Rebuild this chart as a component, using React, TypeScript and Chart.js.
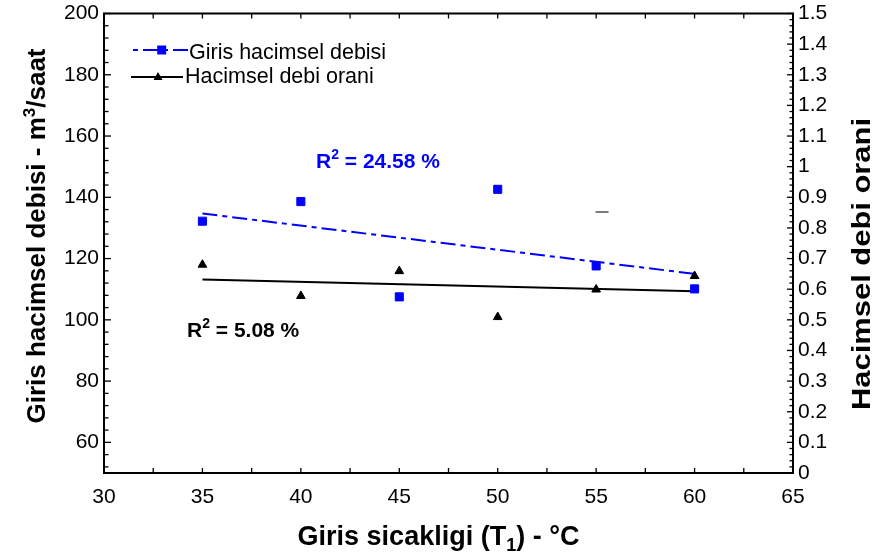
import React, { useEffect, useRef } from 'react';
import { Chart, registerables } from 'chart.js';

Chart.register(...registerables);

// ---------------- data ----------------
const temperatures = [35, 40, 45, 50, 55, 60];
const inletFlow = [132.2, 138.6, 107.5, 142.6, 117.6, 110.1];
const flowRatio = [0.68, 0.578, 0.659, 0.509, 0.599, 0.643];
const flowFitX = [35, 60];
const flowFitY = [134.7, 115.0];
const ratioFitX = [35, 60];
const ratioFitY = [0.632, 0.593];
const strayMarkX = [55.3];
const strayMarkY = [135.2];

const xTickValues = [30, 35, 40, 45, 50, 55, 60, 65];
const leftTickValues = [60, 80, 100, 120, 140, 160, 180, 200];
const rightTickValues = [0, 0.1, 0.2, 0.3, 0.4, 0.5, 0.6, 0.7, 0.8, 0.9, 1, 1.1, 1.2, 1.3, 1.4, 1.5];
const rightTickLabels = ['0', '0.1', '0.2', '0.3', '0.4', '0.5', '0.6', '0.7', '0.8', '0.9', '1', '1.1', '1.2', '1.3', '1.4', '1.5'];

const seriesLabels = ['Giris hacimsel debisi', 'Hacimsel debi orani'];
const r2Flow = ['R', '2', ' = 24.58 %'];
const r2Ratio = ['R', '2', ' = 5.08 %'];
const xTitle = ['Giris sicakligi (T', '1', ') - °C'];
const leftTitle = ['Giris hacimsel debisi - m', '3', '/saat'];
const rightTitle = 'Hacimsel debi orani';

const FONT = '"Liberation Sans", Arial, Helvetica, sans-serif';
const BLUE = '#0000ff';

type Part = { t: string; size: number; dy?: number; bold?: boolean };

function drawParts(ctx: CanvasRenderingContext2D, parts: Part[], x: number, y: number, align: 'left' | 'center') {
  let total = 0;
  const widths: number[] = [];
  for (const p of parts) {
    ctx.font = `${p.bold === false ? '' : 'bold '}${p.size}px ${FONT}`;
    const w = ctx.measureText(p.t).width;
    widths.push(w);
    total += w;
  }
  let cx = align === 'center' ? x - total / 2 : x;
  ctx.textAlign = 'left';
  ctx.textBaseline = 'alphabetic';
  parts.forEach((p, i) => {
    ctx.font = `${p.bold === false ? '' : 'bold '}${p.size}px ${FONT}`;
    ctx.fillText(p.t, cx, y + (p.dy || 0));
    cx += widths[i];
  });
  return total;
}

function line(ctx: CanvasRenderingContext2D, x1: number, y1: number, x2: number, y2: number) {
  ctx.beginPath();
  ctx.moveTo(x1, y1);
  ctx.lineTo(x2, y2);
  ctx.stroke();
}

const overlayPlugin = {
  id: 'overlay',
  afterDraw(chart: any) {
    const ctx: CanvasRenderingContext2D = chart.ctx;
    const { left, right, top, bottom } = chart.chartArea;
    const xs = chart.scales.x;
    const yl = chart.scales.y;
    const yr = chart.scales.y1;
    ctx.save();

    // frame
    ctx.strokeStyle = '#000';
    ctx.lineWidth = 2;
    ctx.strokeRect(left, top, right - left, bottom - top);

    // x ticks (bottom and top, inward)
    ctx.lineWidth = 1.3;
    for (let i = 0; i <= 14; i++) {
      const px = xs.getPixelForValue(30 + i * 2.5);
      line(ctx, px, bottom, px, bottom - 5);
      line(ctx, px, top, px, top + 5);
    }
    // left axis ticks
    for (let i = 0; i <= 37; i++) {
      const v = 52 + i * 4;
      const py = yl.getPixelForValue(v);
      const len = v % 20 === 0 ? 7 : 4.5;
      line(ctx, left, py, left + len, py);
    }
    // right axis ticks
    for (let i = 0; i <= 75; i++) {
      const py = yr.getPixelForValue(i * 0.02);
      const len = i % 5 === 0 ? 6 : 3.5;
      line(ctx, right, py, right - len, py);
    }

    // legend
    ctx.lineWidth = 2;
    ctx.strokeStyle = BLUE;
    ctx.setLineDash([5, 5, 15, 5]);
    line(ctx, 133, 50, 188, 50);
    ctx.setLineDash([]);
    ctx.fillStyle = BLUE;
    ctx.fillRect(161.7 - 4.5, 50 - 4.5, 9, 9);
    ctx.strokeStyle = '#000';
    line(ctx, 131, 77, 183, 77);
    ctx.fillStyle = '#000';
    ctx.beginPath();
    ctx.moveTo(158, 72);
    ctx.lineTo(162.5, 80);
    ctx.lineTo(153.5, 80);
    ctx.closePath();
    ctx.fill();
    ctx.fillStyle = '#000';
    ctx.font = `21.5px ${FONT}`;
    ctx.textAlign = 'left';
    ctx.textBaseline = 'alphabetic';
    ctx.fillText(seriesLabels[0], 189, 59);
    ctx.fillText(seriesLabels[1], 185, 83);

    // R² annotations
    ctx.fillStyle = BLUE;
    drawParts(ctx, [
      { t: r2Flow[0], size: 21 },
      { t: r2Flow[1], size: 14, dy: -9 },
      { t: r2Flow[2], size: 21 },
    ], 316, 168, 'left');
    ctx.fillStyle = '#000';
    drawParts(ctx, [
      { t: r2Ratio[0], size: 21 },
      { t: r2Ratio[1], size: 14, dy: -9 },
      { t: r2Ratio[2], size: 21 },
    ], 187, 337, 'left');

    // axis titles
    ctx.fillStyle = '#000';
    drawParts(ctx, [
      { t: xTitle[0], size: 27 },
      { t: xTitle[1], size: 18, dy: 6 },
      { t: xTitle[2], size: 27 },
    ], 438.5, 545, 'center');

    ctx.save();
    ctx.translate(45, 236);
    ctx.rotate(-Math.PI / 2);
    drawParts(ctx, [
      { t: leftTitle[0], size: 26 },
      { t: leftTitle[1], size: 17, dy: -10 },
      { t: leftTitle[2], size: 26 },
    ], 0, 0, 'center');
    ctx.restore();

    ctx.save();
    ctx.translate(870, 264);
    ctx.rotate(-Math.PI / 2);
    ctx.font = `bold 25px ${FONT}`;
    const rw = ctx.measureText(rightTitle).width;
    ctx.scale(292 / rw, 1);
    drawParts(ctx, [{ t: rightTitle, size: 25 }], 0, 0, 'center');
    ctx.restore();

    ctx.restore();
  },
};

const noPad = (w: number | null, h: number | null) => (s: any) => {
  if (w !== null) s.width = w;
  if (h !== null) s.height = h;
  s.paddingTop = 0;
  s.paddingBottom = 0;
};

export default function App() {
  const canvasRef = useRef<HTMLCanvasElement | null>(null);

  useEffect(() => {
    const canvas = canvasRef.current;
    if (!canvas) return;
    const tickFont = { family: FONT, size: 21 };
    const chart = new Chart(canvas, {
      type: 'scatter',
      data: {
        datasets: [
          {
            label: seriesLabels[0],
            data: temperatures.map((t, i) => ({ x: t, y: inletFlow[i] })),
            yAxisID: 'y',
            pointStyle: 'rect',
            pointRadius: 5.7,
            backgroundColor: BLUE,
            borderColor: BLUE,
            borderWidth: 1,
            showLine: false,
          },
          {
            label: seriesLabels[1],
            data: temperatures.map((t, i) => ({ x: t, y: flowRatio[i] })),
            yAxisID: 'y1',
            pointStyle: 'triangle',
            pointRadius: 5,
            backgroundColor: '#000',
            borderColor: '#000',
            borderWidth: 1,
            showLine: false,
          },
          {
            label: 'mark',
            data: strayMarkX.map((x, i) => ({ x, y: strayMarkY[i] })),
            yAxisID: 'y',
            pointStyle: 'line',
            pointRadius: 6.5,
            borderColor: '#7a7a7a',
            backgroundColor: '#7a7a7a',
            borderWidth: 2,
            showLine: false,
          },
          {
            label: 'fit1',
            data: flowFitX.map((x, i) => ({ x, y: flowFitY[i] })),
            yAxisID: 'y',
            showLine: true,
            borderColor: BLUE,
            borderWidth: 2,
            borderDash: [15, 5, 5, 5],
            pointRadius: 0,
          },
          {
            label: 'fit2',
            data: ratioFitX.map((x, i) => ({ x, y: ratioFitY[i] })),
            yAxisID: 'y1',
            showLine: true,
            borderColor: '#000',
            borderWidth: 2,
            pointRadius: 0,
          },
        ],
      },
      options: {
        responsive: false,
        animation: false,
        devicePixelRatio: 1,
        events: [],
        layout: { padding: { top: 13.5, left: 0, right: 0, bottom: 0 } },
        plugins: { legend: { display: false }, tooltip: { enabled: false } },
        scales: {
          x: {
            type: 'linear',
            position: 'bottom',
            min: 30,
            max: 65,
            afterBuildTicks: (s: any) => { s.ticks = xTickValues.map((v) => ({ value: v })); },
            afterFit: (s: any) => { s.height = 84; },
            ticks: { font: tickFont, color: '#000', padding: 12, maxRotation: 0, autoSkip: false },
            grid: { display: false, drawTicks: false },
            border: { display: false },
          },
          y: {
            type: 'linear',
            position: 'left',
            min: 50,
            max: 200,
            afterBuildTicks: (s: any) => { s.ticks = leftTickValues.map((v) => ({ value: v })); },
            afterFit: noPad(104, null),
            ticks: { font: tickFont, color: '#000', padding: 5, autoSkip: false },
            grid: { display: false, drawTicks: false },
            border: { display: false },
          },
          y1: {
            type: 'linear',
            position: 'right',
            min: 0,
            max: 1.5,
            afterBuildTicks: (s: any) => { s.ticks = rightTickValues.map((v) => ({ value: v })); },
            afterFit: noPad(85, null),
            ticks: {
              font: tickFont,
              color: '#000',
              padding: 5,
              autoSkip: false,
              callback: (_v: any, i: number) => rightTickLabels[i],
            },
            grid: { display: false, drawTicks: false },
            border: { display: false },
          },
        },
      } as any,
      plugins: [overlayPlugin],
    });
    return () => chart.destroy();
  }, []);

  return (
    <div style={{ position: 'fixed', left: 0, top: 0, width: 878, height: 557, background: '#fff' }}>
      <canvas ref={canvasRef} width={878} height={557} style={{ display: 'block' }} />
    </div>
  );
}
